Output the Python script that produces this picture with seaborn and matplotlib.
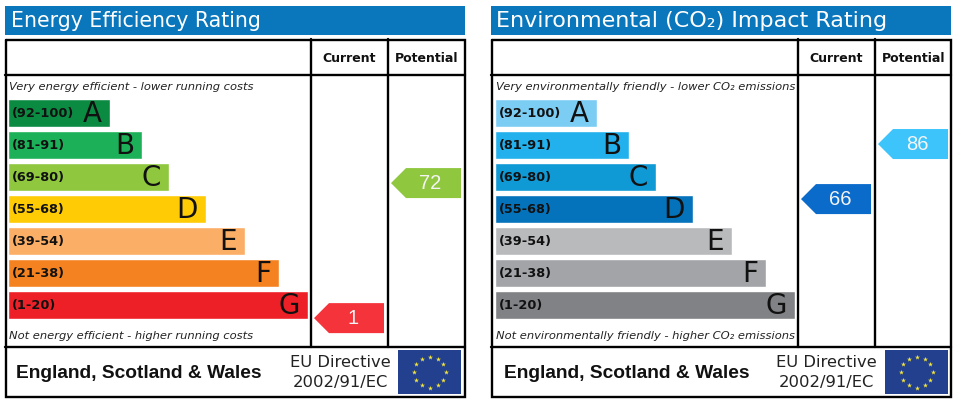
import numpy as np
import pandas as pd
import matplotlib
matplotlib.use("Agg")
import matplotlib.pyplot as plt
import seaborn as sns

# band data
band_letters = ["A", "B", "C", "D", "E", "F", "G"]
band_ranges = ["(92-100)", "(81-91)", "(69-80)", "(55-68)", "(39-54)", "(21-38)", "(1-20)"]
band_lengths = [102, 134, 161, 198, 237, 271, 300]

energy_colors = ["#0b8a42", "#1cb158", "#8fc73e", "#fecb05", "#fbae65", "#f58220", "#ee2027"]
co2_colors = ["#7ccdf4", "#22b1ec", "#0f9ad6", "#0573bb", "#b9babc", "#a2a4a7", "#808285"]

energy_title = "Energy Efficiency Rating"
co2_title = "Environmental (CO₂) Impact Rating"
energy_top = "Very energy efficient - lower running costs"
energy_bottom = "Not energy efficient - higher running costs"
co2_top = "Very environmentally friendly - lower CO₂ emissions"
co2_bottom = "Not environmentally friendly - higher CO₂ emissions"

# ratings, and the row (in band units) where each arrow sits
energy_current, energy_potential = 1, 72
energy_current_row, energy_potential_row = 6.41, 2.19
co2_current, co2_potential = 66, 86
co2_current_row, co2_potential_row = 2.69, 0.97

energy_arrow_colors = ["#f5333a", "#8fc73e"]
co2_arrow_colors = ["#0b6bcb", "#3cc4fb"]

W, H = 957, 404
sns.set_theme(style="white")
plt.rcParams["font.family"] = ["DejaVu Sans"]

fig = plt.figure(figsize=(W / 100, H / 100), dpi=100)
bg = fig.add_axes([0, 0, 1, 1])
bg.set_xlim(0, W)
bg.set_ylim(H, 0)
bg.axis("off")


def arrow(ax, col_right, row, value, color):
    # col_right is in px from bar origin, 70 px long with a 15 px tip
    half = 15 / 32
    xs = [col_right - 70, col_right - 55, col_right, col_right, col_right - 55]
    ys = [row, row - half, row - half, row + half, row + half]
    ax.fill(xs, ys, color=color, lw=0, zorder=3, clip_on=False)
    ax.text(col_right - 31, row + 0.02, str(value), color="#f4f4f4", fontsize=14.5,
            family="Liberation Sans", ha="center", va="center", zorder=4, clip_on=False)


def panel(x0, shift, title, title_size, top, bottom, colors, cur, cur_row, pot, pot_row, arrow_colors):
    # title strip
    bg.fill([x0, x0 + 460, x0 + 460, x0], [6, 6, 35, 35], color="#0a76bc", lw=0)
    bg.text(x0 + 6 - shift, 21, title, color="white", fontsize=title_size, ha="left", va="center")

    # frame and grid
    lw = 1.7
    bg.plot([x0 + .5, x0 + 459.5, x0 + 459.5, x0 + .5, x0 + .5], [39.5, 39.5, 397, 397, 39.5],
            color="black", lw=lw, solid_joinstyle="miter")
    bg.plot([x0, x0 + 460], [75, 75], color="black", lw=lw)
    bg.plot([x0, x0 + 460], [347, 347], color="black", lw=lw)
    bg.plot([x0 + 306 + shift] * 2, [39, 347], color="black", lw=lw)
    bg.plot([x0 + 383 + shift] * 2, [39, 347], color="black", lw=lw)

    bg.text(x0 + 344.5 + shift, 58.5, "Current", fontsize=9, fontweight="bold", color="#111111", ha="center", va="center")
    bg.text(x0 + 421.5 + shift, 58.5, "Potential", fontsize=9, fontweight="bold", color="#111111", ha="center", va="center")
    bg.text(x0 + 4 + shift, 87.5, top, fontsize=8.25, style="italic", color="#222222", va="center")
    bg.text(x0 + 4 + shift, 336, bottom, fontsize=8.25, style="italic", color="#222222", va="center")

    # footer
    bg.text(x0 + 11 + 2 * shift, 374, "England, Scotland & Wales", fontsize=13.8, fontweight="bold",
            family="Liberation Sans", color="#111111", va="center")
    bg.text(x0 + 335, 362.5, "EU Directive", fontsize=11.8, color="#222222", ha="center", va="center")
    bg.text(x0 + 335, 383, "2002/91/EC", fontsize=11.8, color="#222222", ha="center", va="center")

    # EU flag
    fx = x0 + 393 + shift
    bg.fill([fx, fx + 63, fx + 63, fx], [350, 350, 394, 394], color="#23408f", lw=0)
    ang = np.arange(12) * np.pi / 6
    sns.scatterplot(x=fx + 31.5 + 16 * np.sin(ang), y=372 - 15.5 * np.cos(ang), marker="*",
                    s=14, color="#f3e53c", linewidth=0, ax=bg, legend=False, zorder=3)

    # bars, in their own axes so that one band is one unit
    bar_x = x0 + 3 + shift
    ax = fig.add_axes([bar_x / W, 1 - 321 / H, (x0 + 460 - bar_x) / W, 224 / H])
    ax.patch.set_alpha(0)
    df = pd.DataFrame({"band": band_letters, "length": band_lengths})
    sns.barplot(data=df, x="length", y="band", hue="band", palette=colors, width=0.875,
                saturation=1, legend=False, ax=ax)
    ax.set_xlim(0, x0 + 460 - bar_x)
    ax.set_ylim(6.5, -0.5)
    ax.axis("off")
    for i, (letter, rng, length) in enumerate(zip(band_letters, band_ranges, band_lengths)):
        ax.text(4, i + 0.03, rng, fontsize=9.3, fontweight="bold", color="#111111", va="center")
        ax.text(length - 8, i + 0.03, letter, fontsize=20, color="#111111", ha="right", va="center")

    arrow(ax, 376, cur_row, cur, arrow_colors[0])
    arrow(ax, 453, pot_row, pot, arrow_colors[1])


panel(5, 0, energy_title, 14.8, energy_top, energy_bottom, energy_colors,
      energy_current, energy_current_row, energy_potential, energy_potential_row, energy_arrow_colors)
panel(491, 1, co2_title, 16, co2_top, co2_bottom, co2_colors,
      co2_current, co2_current_row, co2_potential, co2_potential_row, co2_arrow_colors)

fig.savefig("out.png", dpi=100)
